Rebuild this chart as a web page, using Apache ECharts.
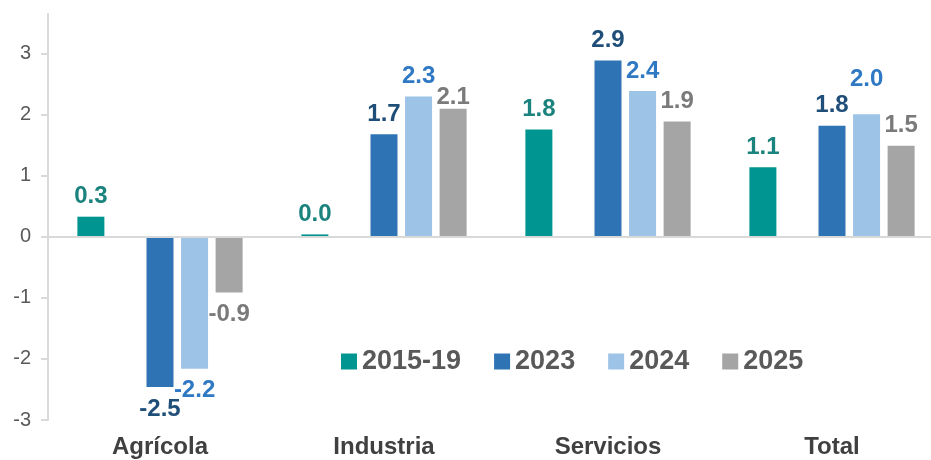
<!DOCTYPE html>
<html>
<head>
<meta charset="utf-8">
<script src="https://cdn.jsdelivr.net/npm/echarts@6/dist/echarts.min.js"></script>
<style>
html,body{margin:0;padding:0;background:#fff;}
#c{width:931px;height:460px;}
</style>
</head>
<body>
<div id="c"></div>
<script>
const categories = ['Agrícola', 'Industria', 'Servicios', 'Total'];
const seriesNames = ['2015-19', '2023', '2024', '2025'];
const v2015_19 = [0.33, 0.04, 1.76, 1.14];
const v2023 = [-2.46, 1.68, 2.89, 1.82];
const v2024 = [-2.16, 2.30, 2.39, 2.01];
const v2025 = [-0.91, 2.10, 1.89, 1.49];
const spacer = [];
const yTicks = [-3, -2, -1, 0, 1, 2, 3];

const barColors = ['#009590', '#2e74b5', '#9dc3e6', '#a5a5a5'];
const labelColors = ['#1b837d', '#1f4e79', '#2f78c4', '#7a7a7a'];
const FONT = 'Liberation Sans, Arial, sans-serif';
// manual label nudges as in the reference (series index -> category index -> [dx, dy])
const labelNudge = { 2: { 3: [0, -15] }, 3: { 1: [0, 9] } };

function mkData(vals, si) {
  return vals.map((v, ci) => {
    const nudge = (labelNudge[si] && labelNudge[si][ci]) || [0, 0];
    return {
      value: v,
      label: { position: v < 0 ? 'bottom' : 'top', distance: v < 0 ? 10 : 8, offset: nudge }
    };
  });
}

function mkSeries(name, vals, i) {
  return {
    name: name,
    type: 'bar',
    barWidth: 27,
    barGap: '28%',
    data: mkData(vals, i),
    itemStyle: { color: barColors[i] },
    label: {
      show: true,
      fontFamily: FONT,
      fontSize: 24,
      fontWeight: 'bold',
      color: labelColors[i],
      formatter: p => p.value.toFixed(1)
    },
    emphasis: { disabled: true }
  };
}

const series = [
  mkSeries(seriesNames[0], v2015_19, 0),
  { name: 'spacer', type: 'bar', barWidth: 27, barGap: '28%', data: spacer },
  mkSeries(seriesNames[1], v2023, 1),
  mkSeries(seriesNames[2], v2024, 2),
  mkSeries(seriesNames[3], v2025, 3)
];
series[0].markLine = {
  silent: true,
  symbol: 'none',
  label: { show: false },
  lineStyle: { color: '#d9d9d9', width: 2, type: 'solid' },
  data: [{ yAxis: 0 }]
};

const chart = echarts.init(document.getElementById('c'), null, { renderer: 'canvas' });
chart.setOption({
  animation: false,
  backgroundColor: '#ffffff',
  grid: { left: 48, top: 14, width: 896, bottom: 40, containLabel: false, outerBoundsMode: 'none' },
  legend: {
    data: seriesNames,
    left: 341,
    top: 348,
    padding: 0,
    itemWidth: 16,
    itemHeight: 16,
    itemGap: 33,
    icon: 'rect',
    textStyle: { fontFamily: FONT, fontSize: 27, fontWeight: 'bold', color: '#595959', lineHeight: 27 }
  },
  xAxis: {
    type: 'category',
    data: categories,
    axisLine: { show: false, onZero: false },
    axisTick: { show: false },
    axisLabel: { fontFamily: FONT, fontSize: 24, fontWeight: 'bold', color: '#404040', margin: 15 }
  },
  yAxis: {
    type: 'value',
    min: -3,
    max: 3.65,
    interval: 1,
    splitLine: { show: false },
    axisLine: { show: true, lineStyle: { color: '#d9d9d9', width: 2 } },
    axisTick: { show: true, length: 7, customValues: yTicks, lineStyle: { color: '#d9d9d9', width: 2 } },
    axisLabel: { fontFamily: FONT, fontSize: 20, color: '#595959', margin: 17, customValues: yTicks }
  },
  series: series
});
</script>
</body>
</html>
